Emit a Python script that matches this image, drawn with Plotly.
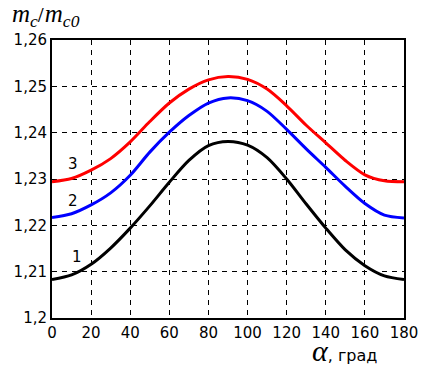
import plotly.graph_objects as go

alpha = [0, 10, 20, 30, 40, 50, 60, 70, 80, 90, 100, 110, 120, 130, 140, 150, 160, 170, 180]
curve1 = [1.2083, 1.2093, 1.2116, 1.2151, 1.2194, 1.2242, 1.2293, 1.2340, 1.2372, 1.2381,
          1.2373, 1.2346, 1.2300, 1.2246, 1.2194, 1.2147, 1.2113, 1.2091, 1.2083]
curve2 = [1.2217, 1.2225, 1.2244, 1.2270, 1.2308, 1.2358, 1.2401, 1.2437, 1.2464, 1.2475,
          1.2469, 1.2446, 1.2407, 1.2365, 1.2325, 1.2284, 1.2247, 1.2222, 1.2216]
curve3 = [1.2294, 1.2301, 1.2319, 1.2344, 1.2380, 1.2424, 1.2464, 1.2494, 1.2514, 1.2521,
          1.2515, 1.2494, 1.2458, 1.2416, 1.2378, 1.2340, 1.2309, 1.2296, 1.2294]
curve_labels = ["1", "2", "3"]
label_x = [13, 10.5, 10.5]
label_y = [1.2132, 1.2252, 1.2332]

x_ticks = list(range(0, 181, 20))
y_ticks = [1.20, 1.21, 1.22, 1.23, 1.24, 1.25, 1.26]
y_ticktext = ["1,2", "1,21", "1,22", "1,23", "1,24", "1,25", "1,26"]

colors = ["#000000", "#0000ff", "#ff0000"]

fig = go.Figure()
for ys, c in zip([curve1, curve2, curve3], colors):
    fig.add_trace(go.Scatter(x=alpha, y=ys, mode="lines", line=dict(color=c, width=3, shape="spline", smoothing=0.8),
                             showlegend=False, hoverinfo="skip"))

for t, lx, ly in zip(curve_labels, label_x, label_y):
    fig.add_annotation(x=lx, y=ly, text=t, showarrow=False, xanchor="center", yanchor="middle",
                       font=dict(family="DejaVu Sans", size=15, color="black"))

fig.add_annotation(xref="paper", yref="paper", x=-0.12, y=1.088, xanchor="left", yanchor="middle",
                   text="<i>m<sub>c</sub></i>/<i>m<sub>c0</sub></i>", showarrow=False,
                   font=dict(family="Liberation Serif", size=25, color="black"))
fig.add_annotation(xref="paper", yref="paper", x=0.928, y=-0.118, xanchor="right", yanchor="middle",
                   text="<i>α</i><span style='font-family:DejaVu Sans;font-size:16px'>, град</span>",
                   showarrow=False, font=dict(family="Liberation Serif", size=30, color="black"))

grid = dict(showgrid=True, gridcolor="black", gridwidth=1, griddash="5px,5px")
fig.update_xaxes(range=[0, 180], tickvals=x_ticks, showline=True, linecolor="black", linewidth=2, mirror=True,
                 ticks="", zeroline=False, automargin=False,
                 tickfont=dict(family="DejaVu Sans", size=15, color="black"), **grid)
fig.update_yaxes(range=[1.20, 1.26], tickvals=y_ticks, ticktext=y_ticktext, showline=True, linecolor="black",
                 linewidth=2, mirror=True, ticks="", zeroline=False, automargin=False,
                 tickfont=dict(family="DejaVu Sans", size=15, color="black"), **grid)

fig.update_layout(width=437, height=371, margin=dict(l=44, r=41, t=32, b=61),
                  plot_bgcolor="white", paper_bgcolor="white")
fig.write_html("out.html")
